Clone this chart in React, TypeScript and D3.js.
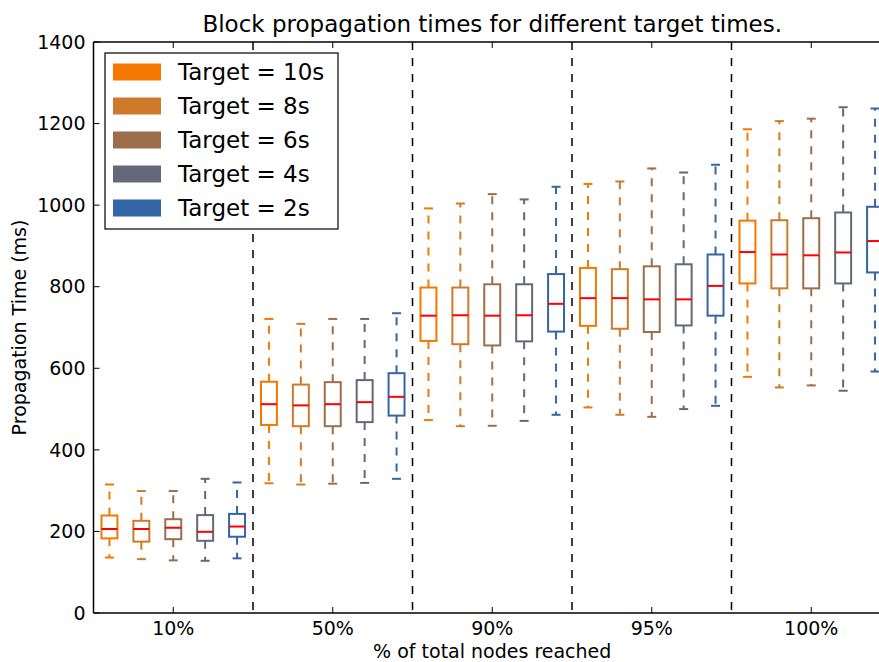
import React from "react";
import * as d3 from "d3";

// Each row: [whisker low, Q1, median, Q3, whisker high] for groups 10%,50%,90%,95%,100%
const groups = ["10%", "50%", "90%", "95%", "100%"];
const seriesNames = ["Target = 10s", "Target = 8s", "Target = 6s", "Target = 4s", "Target = 2s"];
const seriesColors = ["#f57900", "#cf7a2a", "#9c6e4c", "#646878", "#3465a4"];

const target10s = [
  [136, 183, 206, 239, 315],
  [318, 461, 512, 567, 721],
  [473, 667, 729, 798, 992],
  [504, 704, 772, 846, 1052],
  [579, 808, 885, 962, 1186],
];
const target8s = [
  [132, 175, 206, 226, 299],
  [315, 458, 509, 560, 709],
  [458, 659, 730, 798, 1004],
  [486, 697, 772, 843, 1058],
  [553, 796, 879, 963, 1206],
];
const target6s = [
  [129, 181, 209, 230, 299],
  [317, 458, 512, 566, 721],
  [459, 656, 729, 806, 1027],
  [481, 689, 769, 850, 1090],
  [558, 796, 877, 968, 1212],
];
const target4s = [
  [128, 177, 199, 240, 329],
  [319, 468, 517, 571, 721],
  [471, 666, 730, 806, 1014],
  [500, 705, 769, 855, 1080],
  [545, 808, 884, 982, 1240],
];
const target2s = [
  [134, 187, 212, 243, 320],
  [329, 484, 530, 588, 735],
  [486, 690, 758, 831, 1045],
  [508, 729, 802, 879, 1099],
  [592, 835, 912, 996, 1237],
];
const yTicks = [0, 200, 400, 600, 800, 1000, 1200, 1400];

const allSeries = [target10s, target8s, target6s, target4s, target2s];

const W = 879;
const H = 662;
const FONT = "DejaVu Sans, sans-serif";

export default function App() {
  const left = 93.5;
  const top = 42;
  const bottom = 613;
  const x = d3.scaleLinear().domain([0.5, 25.5]).range([left, 891]);
  const y = d3.scaleLinear().domain([0, 1400]).range([bottom, top]);
  const boxW = x(1.25) - x(0.75);
  const capW = 9;

  const boxes: JSX.Element[] = [];
  allSeries.forEach((series, s) => {
    const color = seriesColors[s];
    series.forEach((st, g) => {
      const pos = g * 5 + s + 1;
      const cx = x(pos);
      const [lo, q1, med, q3, hi] = st;
      boxes.push(
        <g key={`b${s}-${g}`}>
          <line x1={cx} x2={cx} y1={y(q3)} y2={y(hi)} stroke={color} strokeWidth={2} strokeDasharray="8,8" />
          <line x1={cx} x2={cx} y1={y(q1)} y2={y(lo)} stroke={color} strokeWidth={2} strokeDasharray="8,8" />
          <line x1={cx - capW / 2} x2={cx + capW / 2} y1={y(hi)} y2={y(hi)} stroke={color} strokeWidth={2} />
          <line x1={cx - capW / 2} x2={cx + capW / 2} y1={y(lo)} y2={y(lo)} stroke={color} strokeWidth={2} />
          <rect x={cx - boxW / 2} y={y(q3)} width={boxW} height={y(q1) - y(q3)} fill="none" stroke={color} strokeWidth={2} />
          <line x1={cx - boxW / 2} x2={cx + boxW / 2} y1={y(med)} y2={y(med)} stroke="#ff0000" strokeWidth={2} />
        </g>
      );
    });
  });

  const dividers = [5.5, 10.5, 15.5, 20.5];
  const xTickPos = groups.map((_, i) => i * 5 + 3);

  return (
    <svg width={W} height={H} style={{ position: "absolute", left: 0, top: 0, background: "#fff" }} fontFamily={FONT}>
      <rect x={0} y={0} width={W} height={H} fill="#fff" />
      <text x={x(13)} y={32} textAnchor="middle" fontSize={23}>
        Block propagation times for different target times.
      </text>
      {dividers.map((d) => (
        <line key={d} x1={x(d)} x2={x(d)} y1={top} y2={bottom} stroke="#000" strokeWidth={1.5} strokeDasharray="8,8" />
      ))}
      {boxes}
      {/* spines */}
      <line x1={left} x2={left} y1={top} y2={bottom} stroke="#000" strokeWidth={1.5} />
      <line x1={left} x2={W + 20} y1={top} y2={top} stroke="#000" strokeWidth={1.5} />
      <line x1={left} x2={W + 20} y1={bottom} y2={bottom} stroke="#000" strokeWidth={1.5} />
      {/* y ticks */}
      {yTicks.map((t) => (
        <g key={t}>
          <line x1={left} x2={left + 6} y1={y(t)} y2={y(t)} stroke="#000" strokeWidth={1} />
          <text x={left - 8} y={y(t)} dy="0.35em" textAnchor="end" fontSize={19}>
            {t}
          </text>
        </g>
      ))}
      {/* x ticks */}
      {xTickPos.map((p, i) => (
        <g key={p}>
          <line x1={x(p)} x2={x(p)} y1={bottom} y2={bottom - 6} stroke="#000" strokeWidth={1} />
          <line x1={x(p)} x2={x(p)} y1={top} y2={top + 6} stroke="#000" strokeWidth={1} />
          <text x={x(p)} y={635} textAnchor="middle" fontSize={19}>
            {groups[i]}
          </text>
        </g>
      ))}
      <text x={x(13)} y={658} textAnchor="middle" fontSize={19}>
        % of total nodes reached
      </text>
      <text transform={`translate(26,${(top + bottom) / 2}) rotate(-90)`} textAnchor="middle" fontSize={19}>
        Propagation Time (ms)
      </text>
      {/* legend */}
      <rect x={105} y={53} width={233} height={176} fill="#fff" stroke="#000" strokeWidth={1.2} />
      {seriesNames.map((n, i) => {
        const cy = 72 + i * 34;
        return (
          <g key={n}>
            <rect x={113} y={cy - 8.5} width={48} height={17} fill={seriesColors[i]} />
            <text x={178} y={cy} dy="0.36em" fontSize={23}>
              {n}
            </text>
          </g>
        );
      })}
    </svg>
  );
}
